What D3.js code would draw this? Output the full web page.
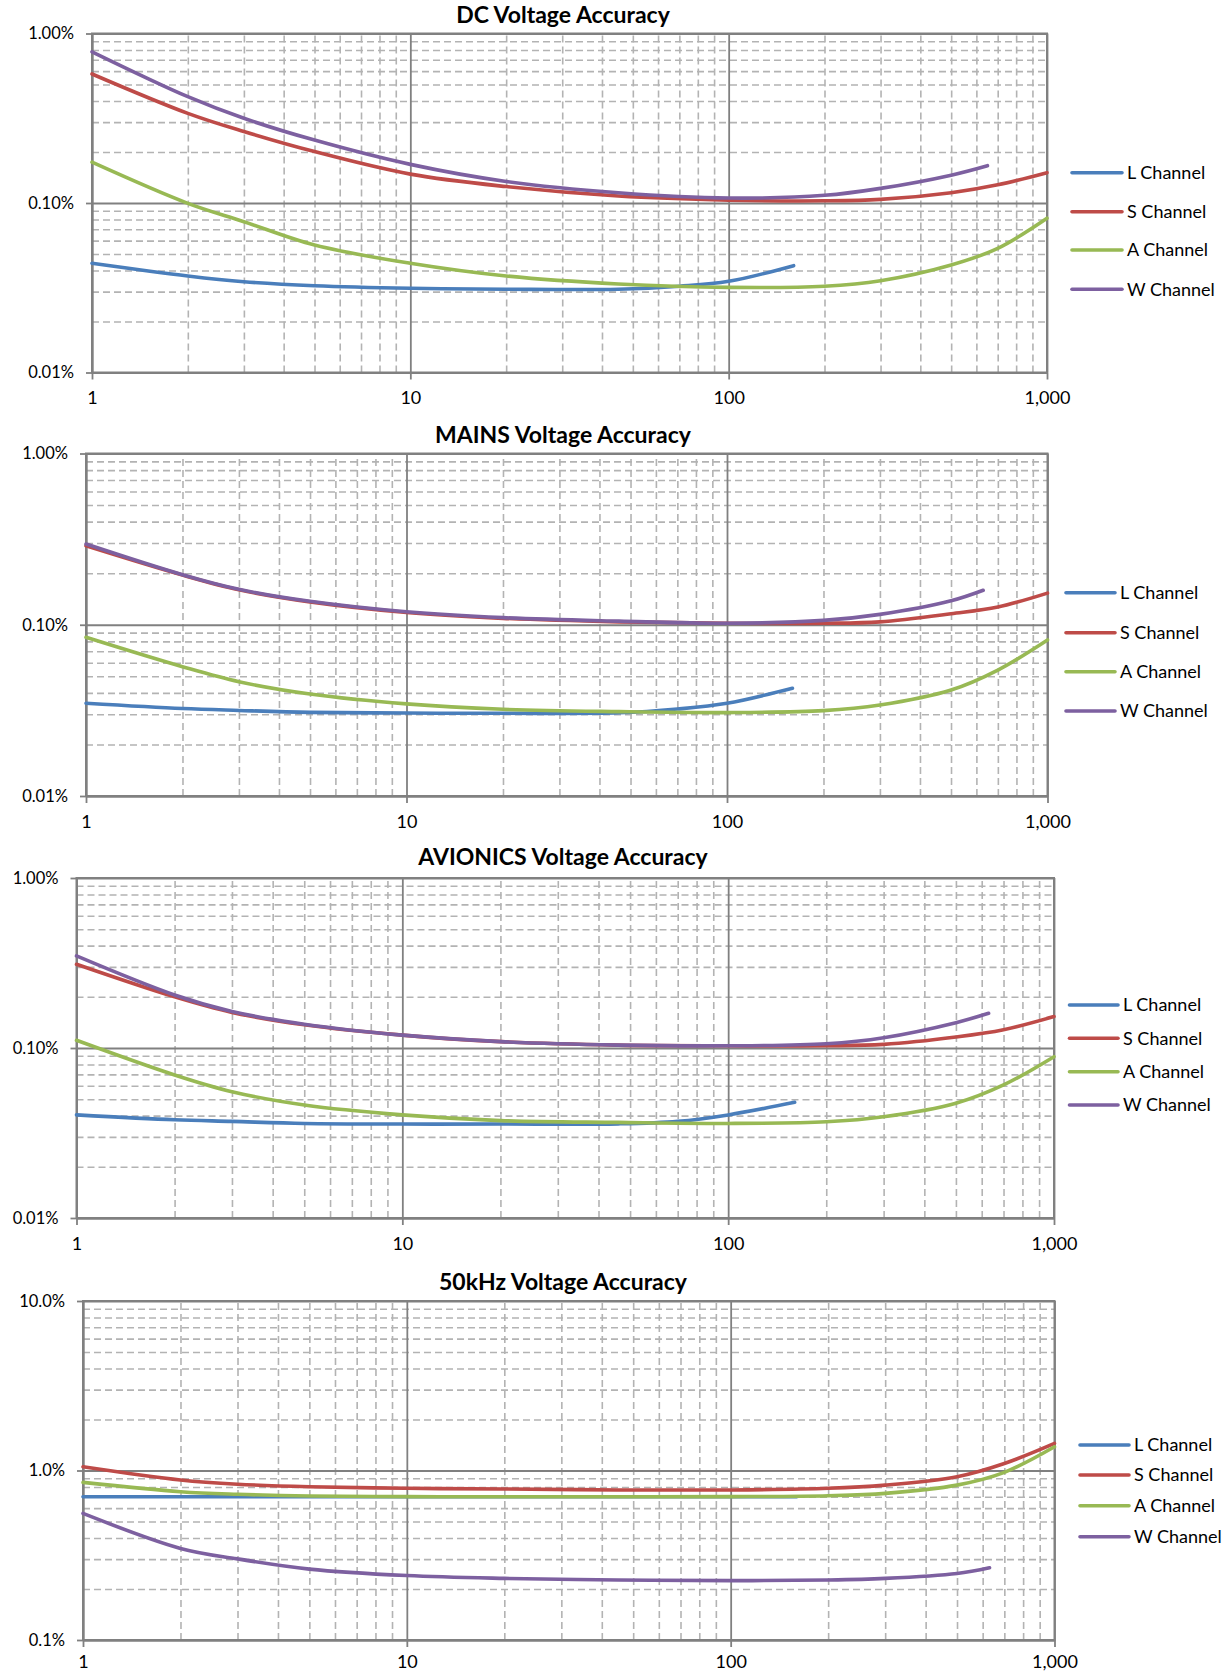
<!DOCTYPE html>
<html>
<head>
<meta charset="utf-8">
<script src="https://cdn.jsdelivr.net/npm/d3@7"></script>
<style>
  body { margin: 0; background: #fff; }
  svg { display: block; font-family: Lato, "Open Sans", sans-serif; }
</style>
</head>
<body>
<div id="chart"></div>
<script>
// ---- data ----
const channelNames = ["L Channel", "S Channel", "A Channel", "W Channel"];
const xTickValues = [1, 10, 100, 1000];
const xTickLabels = ["1", "10", "100", "1,000"];
const yTickLabelsSmall = ["1.00%", "0.10%", "0.01%"];
const yTickLabelsLarge = ["10.0%", "1.0%", "0.1%"];

// DC
const dcXL = [1, 2, 3, 5, 10, 20, 45, 70, 100, 160];
const dcL = [0.0441, 0.0371, 0.0343, 0.0325, 0.0314, 0.031, 0.031, 0.0323, 0.0345, 0.0427];
const dcXS = [1, 2, 3, 5, 10, 20, 45, 100, 200, 300, 500, 700, 1000];
const dcS = [0.577, 0.338, 0.264, 0.201, 0.148, 0.125, 0.110, 0.104, 0.103, 0.105, 0.115, 0.128, 0.151];
const dcA = [0.174, 0.0995, 0.0776, 0.0565, 0.0441, 0.0371, 0.0333, 0.0318, 0.0323, 0.0348, 0.0431, 0.054, 0.0813];
const dcXW = [1, 2, 3, 5, 10, 20, 45, 100, 200, 300, 500, 650];
const dcW = [0.78, 0.424, 0.316, 0.235, 0.169, 0.134, 0.115, 0.107, 0.111, 0.122, 0.146, 0.166];

// MAINS
const mainsXL = [1, 2, 3, 5, 10, 20, 46, 70, 100, 160];
const mainsL = [0.0348, 0.0324, 0.0316, 0.0308, 0.0305, 0.0304, 0.0306, 0.0322, 0.0348, 0.0426];
const mainsXS = [1, 2, 3, 5, 10, 20, 46, 100, 200, 300, 500, 700, 1000];
const mainsS = [0.289, 0.195, 0.160, 0.136, 0.118, 0.109, 0.104, 0.102, 0.102, 0.104, 0.116, 0.127, 0.153];
const mainsA = [0.0845, 0.0569, 0.0465, 0.0394, 0.0345, 0.0321, 0.0311, 0.0307, 0.0315, 0.034, 0.0416, 0.0544, 0.0815];
const mainsXW = [1, 2, 3, 5, 10, 20, 46, 100, 200, 300, 500, 630];
const mainsW = [0.296, 0.196, 0.161, 0.137, 0.119, 0.110, 0.105, 0.102, 0.106, 0.115, 0.138, 0.159];

// AVIONICS
const avXL = [1, 2, 3, 5, 10, 20, 46, 70, 100, 160];
const avL = [0.0404, 0.0378, 0.037, 0.036, 0.0357, 0.0357, 0.0358, 0.037, 0.0404, 0.0479];
const avXS = [1, 2, 3, 5, 10, 20, 46, 100, 200, 300, 500, 700, 1000];
const avS = [0.311, 0.200, 0.162, 0.137, 0.119, 0.109, 0.104, 0.103, 0.103, 0.105, 0.116, 0.128, 0.153];
const avA = [0.111, 0.0694, 0.0553, 0.0462, 0.0404, 0.0374, 0.0365, 0.036, 0.0368, 0.0394, 0.0473, 0.0606, 0.0889];
const avXW = [1, 2, 3, 5, 10, 20, 46, 100, 200, 300, 500, 630];
const avW = [0.348, 0.205, 0.164, 0.138, 0.119, 0.109, 0.104, 0.103, 0.106, 0.115, 0.141, 0.160];

// 50kHz
const khzXL = [1, 3, 10, 30, 100, 160];
const khzL = [0.70, 0.70, 0.70, 0.70, 0.70, 0.70];
const khzXS = [1, 2, 3, 5, 10, 20, 45, 100, 200, 300, 500, 700, 1000];
const khzS = [1.052, 0.879, 0.830, 0.802, 0.785, 0.778, 0.768, 0.768, 0.785, 0.820, 0.919, 1.10, 1.445];
const khzA = [0.851, 0.750, 0.724, 0.707, 0.701, 0.700, 0.700, 0.701, 0.710, 0.733, 0.820, 0.975, 1.38];
const khzXW = [1, 2, 3, 5, 10, 20, 45, 100, 200, 300, 500, 630];
const khzW = [0.558, 0.347, 0.301, 0.262, 0.240, 0.231, 0.226, 0.224, 0.226, 0.231, 0.247, 0.267];

// ---- styles / layout ----
const colors = ["#4a7ebb", "#be4b48", "#98b954", "#7d60a0"];
const majorColor = "#808080";
const minorColor = "#b3b3b3";
const fontStack = "Lato, 'Open Sans', sans-serif";

const panels = [
    { title: "DC Voltage Accuracy", titleY: 15, left: 92, right: 1047, top: 33.5, bottom: 372.5,
      yDomain: [0.01, 1], yLabels: yTickLabelsSmall, xPad: 12,
      xs: [dcXL, dcXS, dcXS, dcXW], ys: [dcL, dcS, dcA, dcW],
      legend: { x1: 1072, x2: 1122, tx: 1127, rows: [172.7, 211.7, 250, 289.3] } },
    { title: "MAINS Voltage Accuracy", titleY: 435, left: 86, right: 1047.5, top: 453.5, bottom: 796,
      yDomain: [0.01, 1], yLabels: yTickLabelsSmall, xPad: 12,
      xs: [mainsXL, mainsXS, mainsXS, mainsXW], ys: [mainsL, mainsS, mainsA, mainsW],
      legend: { x1: 1066, x2: 1115, tx: 1120, rows: [592.7, 632.7, 671.7, 711] } },
    { title: "AVIONICS Voltage Accuracy", titleY: 857, left: 76.5, right: 1054, top: 878, bottom: 1218,
      yDomain: [0.01, 1], yLabels: yTickLabelsSmall, xPad: 12,
      xs: [avXL, avXS, avXS, avXW], ys: [avL, avS, avA, avW],
      legend: { x1: 1069.5, x2: 1118, tx: 1123, rows: [1005, 1038.3, 1071.7, 1105] } },
    { title: "50kHz Voltage Accuracy", titleY: 1281.5, left: 83, right: 1054.5, top: 1301, bottom: 1640,
      yDomain: [0.1, 10], yLabels: yTickLabelsLarge, xPad: 8,
      xs: [khzXL, khzXS, khzXS, khzXW], ys: [khzL, khzS, khzA, khzW],
      legend: { x1: 1080, x2: 1129, tx: 1134, rows: [1445, 1475, 1505.7, 1536.7] } }
];

const svg = d3.select("#chart").append("svg")
    .attr("width", 1231)
    .attr("height", 1675);

const isDecade = d => Math.abs(Math.log10(d) - Math.round(Math.log10(d))) < 1e-6;

panels.forEach(p => {
    const x = d3.scaleLog().domain([1, 1000]).range([p.left, p.right]);
    const y = d3.scaleLog().domain(p.yDomain).range([p.bottom, p.top]);
    const w = p.right - p.left;
    const h = p.bottom - p.top;
    const g = svg.append("g");

    const yMajor = y.ticks().filter(isDecade);
    const yMinor = y.ticks().filter(d => !isDecade(d));
    const xMinor = x.ticks().filter(d => !isDecade(d));

    // minor gridlines (dashed)
    g.append("g")
        .attr("transform", `translate(0,${p.bottom})`)
        .call(d3.axisBottom(x).tickValues(xMinor).tickSize(-h).tickFormat(""))
        .call(a => a.select(".domain").remove())
        .call(a => a.selectAll("line").attr("stroke", minorColor).attr("stroke-width", 1.6).attr("stroke-dasharray", "7,4"));
    g.append("g")
        .attr("transform", `translate(${p.left},0)`)
        .call(d3.axisLeft(y).tickValues(yMinor).tickSize(-w).tickFormat(""))
        .call(a => a.select(".domain").remove())
        .call(a => a.selectAll("line").attr("stroke", minorColor).attr("stroke-width", 1.6).attr("stroke-dasharray", "7,4"));

    // major gridlines (solid)
    g.append("g")
        .attr("transform", `translate(0,${p.bottom})`)
        .call(d3.axisBottom(x).tickValues(xTickValues).tickSize(-h).tickFormat(""))
        .call(a => a.select(".domain").remove())
        .call(a => a.selectAll("line").attr("stroke", majorColor).attr("stroke-width", 1.8));
    g.append("g")
        .attr("transform", `translate(${p.left},0)`)
        .call(d3.axisLeft(y).tickValues(yMajor).tickSize(-w).tickFormat(""))
        .call(a => a.select(".domain").remove())
        .call(a => a.selectAll("line").attr("stroke", majorColor).attr("stroke-width", 1.8));

    // plot border
    g.append("rect")
        .attr("x", p.left).attr("y", p.top)
        .attr("width", w).attr("height", h)
        .attr("fill", "none")
        .attr("stroke", majorColor)
        .attr("stroke-width", 2);

    // axes with labels
    const yLabelOf = d3.scaleOrdinal().domain(yMajor.slice().reverse()).range(p.yLabels);
    g.append("g")
        .attr("transform", `translate(${p.left},0)`)
        .call(d3.axisLeft(y).tickValues(yMajor).tickSizeInner(6).tickSizeOuter(0).tickPadding(12)
            .tickFormat(d => yLabelOf(d)))
        .call(a => a.select(".domain").attr("stroke", majorColor).attr("stroke-width", 2))
        .call(a => a.selectAll("line").attr("stroke", majorColor).attr("stroke-width", 1.8))
        .call(a => a.selectAll("text").attr("font-size", 16.5).attr("fill", "#000").attr("font-family", fontStack));

    g.append("g")
        .attr("transform", `translate(0,${p.bottom})`)
        .call(d3.axisBottom(x).tickValues(xTickValues).tickSizeInner(7).tickSizeOuter(0).tickPadding(p.xPad)
            .tickFormat((d, i) => xTickLabels[i]))
        .call(a => a.select(".domain").attr("stroke", majorColor).attr("stroke-width", 2))
        .call(a => a.selectAll("line").attr("stroke", majorColor).attr("stroke-width", 1.8))
        .call(a => a.selectAll("text").attr("font-size", 18).attr("fill", "#000").attr("font-family", fontStack));

    // series lines
    const line = d3.line()
        .x(d => x(d[0]))
        .y(d => y(d[1]))
        .curve(d3.curveCatmullRom.alpha(0.5));

    channelNames.forEach((name, i) => {
        const pts = p.xs[i].map((xv, j) => [xv, p.ys[i][j]]);
        g.append("path")
            .datum(pts)
            .attr("d", line)
            .attr("fill", "none")
            .attr("stroke", colors[i])
            .attr("stroke-width", 3.6)
            .attr("stroke-linecap", "round");
    });

    // title
    g.append("text")
        .attr("x", 563)
        .attr("y", p.titleY)
        .attr("dy", "0.35em")
        .attr("text-anchor", "middle")
        .attr("font-size", 23)
        .attr("font-weight", "bold")
        .text(p.title);

    // legend
    channelNames.forEach((name, i) => {
        const ly = p.legend.rows[i];
        g.append("line")
            .attr("x1", p.legend.x1).attr("x2", p.legend.x2)
            .attr("y1", ly).attr("y2", ly)
            .attr("stroke", colors[i])
            .attr("stroke-width", 3.6)
            .attr("stroke-linecap", "round");
        g.append("text")
            .attr("x", p.legend.tx)
            .attr("y", ly)
            .attr("dy", "0.35em")
            .attr("font-size", 18)
            .text(name);
    });
});
</script>
</body>
</html>
